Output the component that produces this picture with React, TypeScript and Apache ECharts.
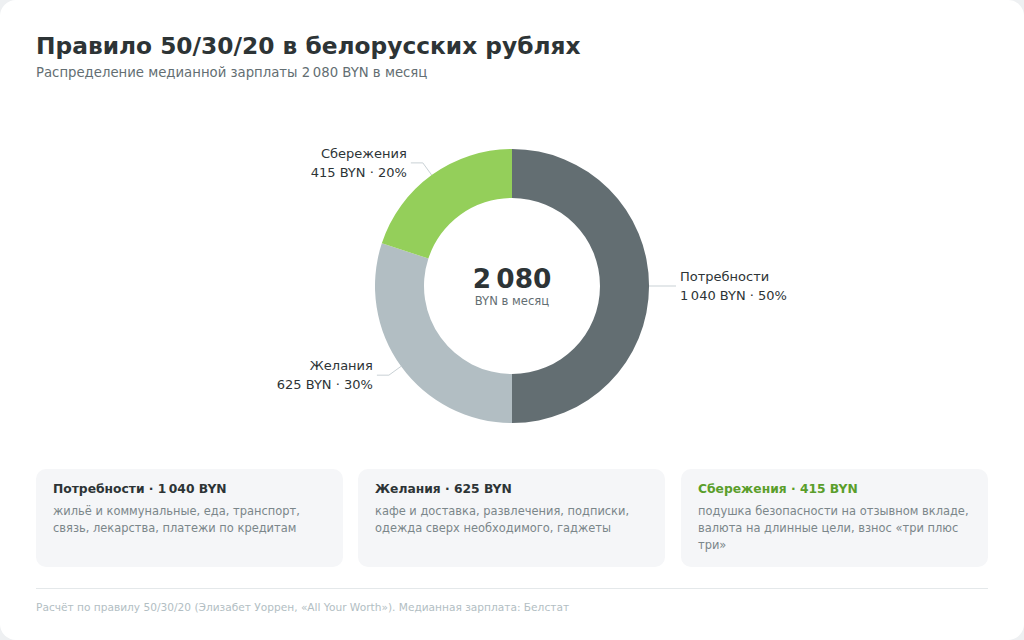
import React, { useEffect, useRef } from "react";
import * as echarts from "echarts";

const NS = "\u202f";
const categories = ["Потребности", "Желания", "Сбережения"];
const values = [1040, 625, 415];
const total = 2080;
const sliceColors = ["#636e72", "#b2bec3", "#94cf5a"];
const cardDescriptions = [
  "жильё и коммунальные, еда, транспорт,\nсвязь, лекарства, платежи по кредитам",
  "кафе и доставка, развлечения, подписки,\nодежда сверх необходимого, гаджеты",
  "подушка безопасности на отзывном вкладе,\nвалюта на длинные цели, взнос «три плюс\nтри»",
];
const cardTitleColors = ["#2d3436", "#2d3436", "#5a9e2b"];

const FONT = "'DejaVu Sans', 'Noto Sans', sans-serif";

function fmt(n: number): string {
  const s = String(n);
  if (s.length <= 3) return s;
  return s.slice(0, s.length - 3) + NS + s.slice(s.length - 3);
}

export default function App() {
  const ref = useRef<HTMLDivElement>(null);
  useEffect(() => {
    document.body.style.margin = "0";
    document.body.style.background = "#eef0f2";
    const chart = echarts.init(ref.current!, null, { renderer: "svg" });

    const cardX = [36, 358, 681];
    const cardW = 307;
    const cardY = 469;
    const cardH = 98;

    const graphics: any[] = [
      {
        type: "rect",
        z: -10,
        shape: { x: 0, y: 0, width: 1024, height: 640, r: 16 },
        style: { fill: "#ffffff" },
        silent: true,
      },
      {
        type: "text",
        x: 36,
        y: 45,
        style: {
          text: "Правило 50/30/20 в белорусских рублях",
          fill: "#2d3436",
          font: `bold 23.3px ${FONT}`,
          textAlign: "left",
          textVerticalAlign: "middle",
        },
      },
      {
        type: "text",
        x: 36,
        y: 72,
        style: {
          text: `Распределение медианной зарплаты ${fmt(total)} BYN в месяц`,
          fill: "#636e72",
          font: `13.25px ${FONT}`,
          textAlign: "left",
          textVerticalAlign: "middle",
        },
      },
      {
        type: "text",
        x: 512,
        y: 278,
        style: {
          text: fmt(total),
          fill: "#2d3436",
          font: `bold 26.4px ${FONT}`,
          textAlign: "center",
          textVerticalAlign: "middle",
        },
      },
      {
        type: "text",
        x: 512,
        y: 301,
        style: {
          text: "BYN в месяц",
          fill: "#636e72",
          font: `11.6px ${FONT}`,
          textAlign: "center",
          textVerticalAlign: "middle",
        },
      },
      {
        type: "line",
        shape: { x1: 36, y1: 588.5, x2: 988, y2: 588.5 },
        style: { stroke: "#e4e8ea", lineWidth: 1 },
      },
      {
        type: "text",
        x: 36,
        y: 607,
        style: {
          text: "Расчёт по правилу 50/30/20 (Элизабет Уоррен, «All Your Worth»). Медианная зарплата: Белстат",
          fill: "#b2bec3",
          font: `10.6px ${FONT}`,
          textAlign: "left",
          textVerticalAlign: "middle",
        },
      },
    ];

    categories.forEach((c, i) => {
      graphics.push({
        type: "rect",
        shape: { x: cardX[i], y: cardY, width: cardW, height: cardH, r: 10 },
        style: { fill: "#f5f6f8" },
      });
      graphics.push({
        type: "text",
        x: cardX[i] + 17,
        y: 489,
        style: {
          text: `${c} · ${fmt(values[i])} BYN`,
          fill: cardTitleColors[i],
          font: `bold 12.3px ${FONT}`,
          textAlign: "left",
          textVerticalAlign: "middle",
        },
      });
      graphics.push({
        type: "text",
        x: cardX[i] + 17,
        y: 502,
        style: {
          text: cardDescriptions[i],
          fill: "#7b868a",
          font: `11.45px ${FONT}`,
          lineHeight: 17,
          textAlign: "left",
          textVerticalAlign: "top",
        },
      });
    });

    chart.setOption({
      animation: false,
      backgroundColor: "transparent",
      graphic: graphics,
      series: [
        {
          type: "pie",
          center: [512, 286],
          radius: [88, 137],
          startAngle: 90,
          clockwise: true,
          avoidLabelOverlap: false,
          silent: true,
          data: categories.map((c, i) => ({
            name: c,
            value: values[i],
            itemStyle: { color: sliceColors[i] },
          })),
          label: {
            show: true,
            position: "outside",
            fontFamily: FONT,
            fontSize: 13,
            color: "#2d3436",
            lineHeight: 19,
            distanceToLabelLine: 4,
            formatter: (p: any) =>
              `${p.name}\n${fmt(p.value)} BYN · ${Math.round((p.value / total) * 100)}%`,
          },
          labelLine: {
            show: true,
            length: 15,
            length2: 12,
            lineStyle: { color: "#c9d1d5", width: 1 },
          },
        },
      ],
    });
    return () => chart.dispose();
  }, []);
  return <div ref={ref} style={{ width: 1024, height: 640, position: "absolute", left: 0, top: 0 }} />;
}
